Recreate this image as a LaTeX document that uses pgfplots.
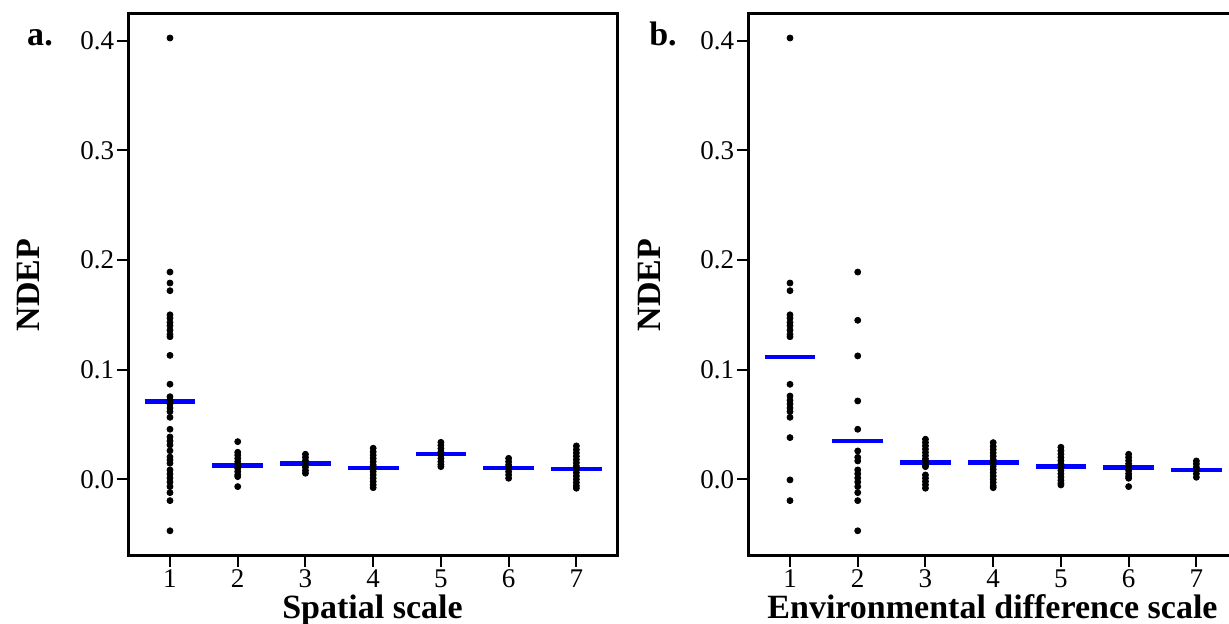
\documentclass[border=0pt]{standalone}
\usepackage{fontspec}
\setmainfont{Liberation Serif}
\usepackage{pgfplots}
\pgfplotsset{compat=1.18}

\definecolor{meanblue}{RGB}{0,0,255}

\pgfplotsset{
  ndep/.style={
    scale only axis, width=244.5pt, height=271pt,
    anchor=south west,
    xmin=0.38, xmax=7.6, ymin=-0.070, ymax=0.4244,
    xtick={1,2,3,4,5,6,7}, ytick={0,0.1,0.2,0.3,0.4},
    tick pos=left, tick align=outside, major tick length=5.5pt,
    axis line style={line width=1.5pt},
    tick style={line width=1pt, black},
    ticklabel style={font=\fontsize{13.5}{15}\selectfont, inner sep=1.2pt},
    /pgf/number format/assume math mode=true,
    yticklabel style={/pgf/number format/.cd, fixed, fixed zerofill, precision=1},
    ylabel={NDEP},
    label style={font=\fontsize{17}{20}\selectfont\bfseries},
    ylabel style={at={(axis description cs:0,0.5)}, anchor=base, yshift=44pt},
    xlabel style={at={(axis description cs:0.5,0)}, anchor=base, yshift=-31.5pt},
  },
  pts/.style={only marks, mark=*, mark size=1.5pt, black, mark options={draw=black, fill=black}},
  meanline/.style={meanblue, line width=2.2pt, unbounded coords=jump, mark=none},
}

\begin{document}
\begin{tikzpicture}
\useasboundingbox (0,0) rectangle (614.5pt,312pt);

% ---- panel a ----
\begin{axis}[ndep, at={(64pt,34pt)}, xlabel={Spatial scale}]
\addplot[pts] table {
x y
1 0.4025
1 0.189
1 0.179
1 0.172
1 0.150
1 0.147
1 0.143
1 0.140
1 0.136
1 0.132
1 0.130
1 0.113
1 0.0867
1 0.0753
1 0.0723
1 0.0687
1 0.065
1 0.0617
1 0.0565
1 0.0456
1 0.0386
1 0.035
1 0.0313
1 0.026
1 0.0203
1 0.0176
1 0.0146
1 0.0085
1 0.0048
1 0.0012
1 -0.0025
1 -0.0067
1 -0.0122
1 -0.0195
1 -0.047
};
\addplot[pts] table {
x y
2 0.0343
2 0.0246
2 0.022
2 0.019
2 0.016
2 0.013
2 0.010
2 0.007
2 0.004
2 0.0024
2 -0.0067
};
\addplot[pts] table {
x y
3 0.0228
3 0.020
3 0.017
3 0.014
3 0.011
3 0.008
3 0.0055
};
\addplot[pts] table {
x y
4 0.0283
4 0.025
4 0.022
4 0.019
4 0.016
4 0.013
4 0.010
4 0.007
4 0.004
4 0.001
4 -0.002
4 -0.005
4 -0.0077
};
\addplot[pts] table {
x y
5 0.0337
5 0.031
5 0.028
5 0.025
5 0.022
5 0.019
5 0.016
5 0.0135
5 0.0115
};
\addplot[pts] table {
x y
6 0.0191
6 0.016
6 0.013
6 0.010
6 0.007
6 0.004
6 0.0009
};
\addplot[pts] table {
x y
7 0.0304
7 0.027
7 0.024
7 0.021
7 0.018
7 0.015
7 0.012
7 0.009
7 0.006
7 0.003
7 0.000
7 -0.003
7 -0.006
7 -0.0082
};
\addplot[meanline] coordinates {
(0.625,0.0708) (1.375,0.0708) (1.5,nan)
(1.625,0.0124) (2.375,0.0124) (2.5,nan)
(2.625,0.0142) (3.375,0.0142) (3.5,nan)
(3.625,0.0100) (4.375,0.0100) (4.5,nan)
(4.625,0.0233) (5.375,0.0233) (5.5,nan)
(5.625,0.0100) (6.375,0.0100) (6.5,nan)
(6.625,0.0091) (7.375,0.0091)
};
\end{axis}

% ---- panel b ----
\begin{axis}[ndep, at={(374pt,34pt)}, xlabel={Environmental difference scale}]
\addplot[pts] table {
x y
1 0.4025
1 0.179
1 0.172
1 0.150
1 0.147
1 0.143
1 0.140
1 0.136
1 0.132
1 0.130
1 0.0866
1 0.0759
1 0.072
1 0.0687
1 0.065
1 0.0617
1 0.0565
1 0.038
1 -0.0006
1 -0.0195
};
\addplot[pts] table {
x y
2 0.189
2 0.145
2 0.1125
2 0.0714
2 0.0456
2 0.0258
2 0.020
2 0.0167
2 0.0085
2 0.005
2 0.0012
2 -0.0025
2 -0.0067
2 -0.0122
2 -0.0195
2 -0.047
};
\addplot[pts] table {
x y
3 0.0365
3 0.0335
3 0.0305
3 0.0275
3 0.0245
3 0.0215
3 0.0185
3 0.0155
3 0.0125
3 0.0115
3 0.0039
3 0.001
3 -0.002
3 -0.005
3 -0.0082
};
\addplot[pts] table {
x y
4 0.0334
4 0.030
4 0.027
4 0.024
4 0.021
4 0.018
4 0.015
4 0.012
4 0.009
4 0.006
4 0.003
4 0.000
4 -0.003
4 -0.006
4 -0.0077
};
\addplot[pts] table {
x y
5 0.0292
5 0.026
5 0.023
5 0.020
5 0.017
5 0.014
5 0.011
5 0.008
5 0.005
5 0.002
5 -0.001
5 -0.0035
5 -0.0052
};
\addplot[pts] table {
x y
6 0.0228
6 0.020
6 0.017
6 0.014
6 0.011
6 0.008
6 0.005
6 0.0025
6 0.0009
6 -0.0067
};
\addplot[pts] table {
x y
7 0.0167
7 0.014
7 0.011
7 0.008
7 0.005
7 0.0018
};
\addplot[meanline] coordinates {
(0.625,0.1113) (1.375,0.1113) (1.5,nan)
(1.625,0.0349) (2.375,0.0349) (2.5,nan)
(2.625,0.0151) (3.375,0.0151) (3.5,nan)
(3.625,0.0151) (4.375,0.0151) (4.5,nan)
(4.625,0.0115) (5.375,0.0115) (5.5,nan)
(5.625,0.0106) (6.375,0.0106) (6.5,nan)
(6.625,0.0082) (7.375,0.0082)
};
\end{axis}

\node[anchor=base, font=\fontsize{17}{20}\selectfont\bfseries] at (20pt,289pt) {a.};
\node[anchor=base, font=\fontsize{17}{20}\selectfont\bfseries] at (331.5pt,289pt) {b.};
\end{tikzpicture}
\end{document}
